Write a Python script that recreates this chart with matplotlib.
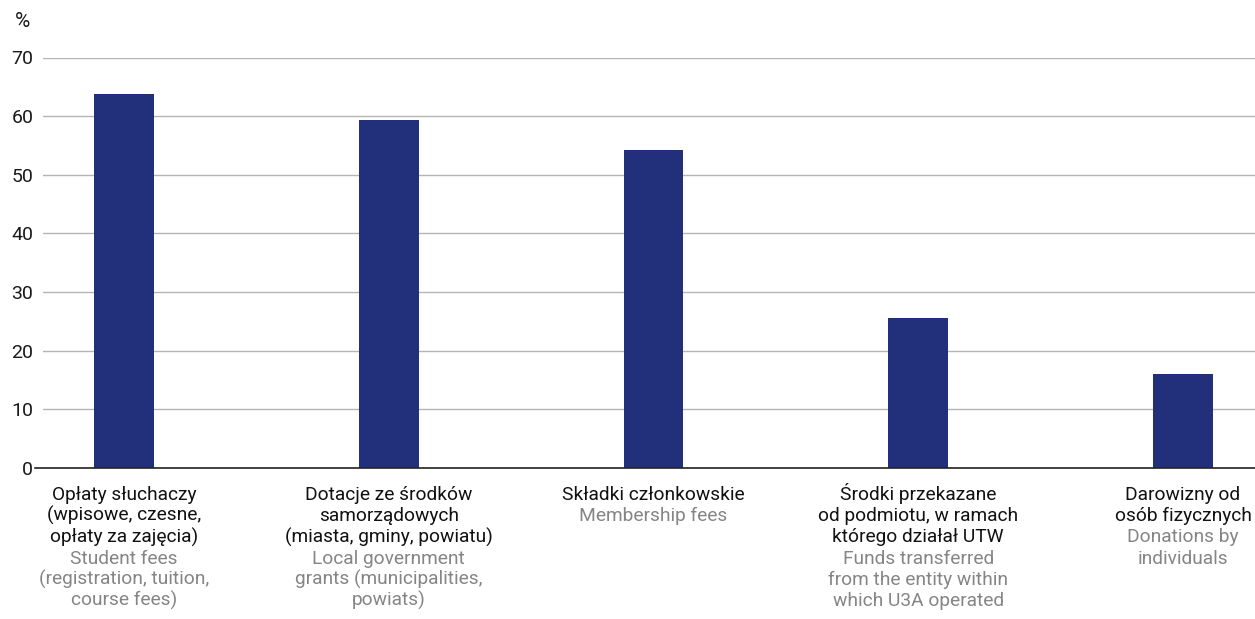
import matplotlib.pyplot as plt
from matplotlib.lines import Line2D

# data
values = [63.8, 59.3, 54.2, 25.6, 16.1]
labels_pl = [
    ["Opłaty słuchaczy", "(wpisowe, czesne,", "opłaty za zajęcia)"],
    ["Dotacje ze środków", "samorządowych", "(miasta, gminy, powiatu)"],
    ["Składki członkowskie"],
    ["Środki przekazane", "od podmiotu, w ramach", "którego działał UTW"],
    ["Darowizny od", "osób fizycznych"],
]
labels_en = [
    ["Student fees", "(registration, tuition,", "course fees)"],
    ["Local government", "grants (municipalities,", "powiats)"],
    ["Membership fees"],
    ["Funds transferred", "from the entity within", "which U3A operated"],
    ["Donations by", "individuals"],
]
yticks = [0, 10, 20, 30, 40, 50, 60, 70]

plt.rcParams['font.family'] = ['Roboto', 'DejaVu Sans']

fig = plt.figure(figsize=(12.55, 6.19), dpi=100)
ax = fig.add_axes([43 / 1255, 1 - 468 / 619, 1 - 43 / 1255, (468 - 57.5) / 619])

x = list(range(len(values)))
ax.bar(x, values, width=0.2266, color='#222f7a', zorder=3)

ax.set_xlim(-0.306, 4.272)
ax.set_ylim(0, 70)
ax.set_yticks(yticks)
ax.set_yticklabels([str(t) for t in yticks], fontsize=14, color='#1a1a1a')
ax.tick_params(axis='y', length=0, pad=7)
ax.set_xticks([])
ax.grid(axis='y', color='#b4b4b4', linewidth=1, zorder=0)
for s in ax.spines.values():
    s.set_visible(False)

# baseline, a bit longer than the axes on the left
ax.add_line(Line2D([-0.007, 1], [0, 0], transform=ax.transAxes, color='#222222',
                   linewidth=1.2, clip_on=False, zorder=4))

fig.text(15 / 1255, 1 - 27 / 619, '%', fontsize=15, color='#1a1a1a',
         ha='left', va='baseline')

first = -23.0
step = 15.3
for i in x:
    lines = [(t, '#111111') for t in labels_pl[i]] + [(t, '#858585') for t in labels_en[i]]
    for k, (t, c) in enumerate(lines):
        ax.annotate(t, xy=(i, 0), xycoords=('data', 'axes fraction'),
                    xytext=(0, first - k * step), textcoords='offset points',
                    ha='center', va='baseline', fontsize=13.8, color=c,
                    annotation_clip=False)

fig.savefig('out.png', dpi=100)
